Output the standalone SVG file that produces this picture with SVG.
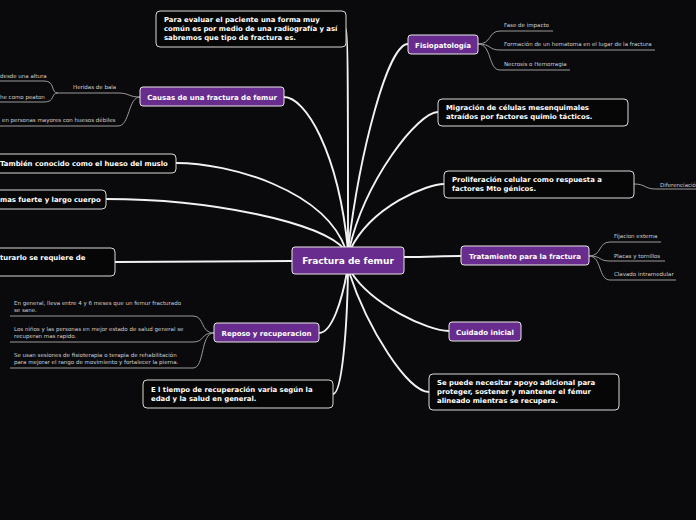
<svg xmlns="http://www.w3.org/2000/svg" width="696" height="520" viewBox="0 0 696 520">
<style>
.bg{fill:#0a0a0d}
.pn{fill:#682c8f;stroke:#e6e6e6;stroke-width:1}
.bn{fill:#060606;stroke:#d9d9d9;stroke-width:1}
.pt{font-family:"DejaVu Sans",sans-serif;font-weight:bold;font-size:7px;fill:#fff;text-anchor:middle}
.ct{font-family:"DejaVu Sans",sans-serif;font-weight:bold;font-size:9px;fill:#fff;text-anchor:middle}
.bt{font-family:"DejaVu Sans",sans-serif;font-weight:bold;font-size:6.9px;fill:#fff}
.lt{font-family:"DejaVu Sans",sans-serif;font-size:5.5px;fill:#d0d0d0}
.c{fill:none;stroke:#f2f2f2;stroke-width:1.9;stroke-linecap:round}
.l{fill:none;stroke:#9a9a9a;stroke-width:1}
</style>
<rect class="bg" x="0" y="0" width="696" height="520"/>
<g id="connectors">
<path class="c" d="M284,97 C305,97 338,150 348,250"/>
<path class="c" d="M346,29 C348,29 348,110 348,250"/>
<path class="c" d="M408,44 C388,44 360,150 348,250"/>
<path class="c" d="M438,112 C418,112 365,180 349,250"/>
<path class="c" d="M444,184 C428,184 372,205 350,250"/>
<path class="c" d="M404,257 C430,257 440,256 461,256"/>
<path class="c" d="M449,331 C428,331 372,305 351,272"/>
<path class="c" d="M429,392 C408,392 368,330 349,272"/>
<path class="c" d="M333,394 C342,394 347,330 348,272"/>
<path class="c" d="M319,333 C332,333 342,300 347,272"/>
<path class="c" d="M176,163 C230,163 325,190 346,250"/>
<path class="c" d="M106,199 C210,199 322,222 345,250"/>
<path class="c" d="M115,262 L292,261"/>
<path class="l" d="M140,97 C128,97 130,93 118,93 L58,93"/>
<path class="l" d="M140,97 C128,97 130,126 118,126 L0,126"/>
<path class="l" d="M58,93 C50,93 56,81 44,81 L0,81"/>
<path class="l" d="M58,93 C50,93 56,102 44,102 L0,102"/>
<path class="l" d="M478,44 C492,44 488,31 500,31 L553,31"/>
<path class="l" d="M478,44 C492,44 488,50 500,50 L655,50"/>
<path class="l" d="M478,44 C492,44 488,70 500,70 L570,70"/>
<path class="l" d="M634,184 C646,184 644,189 656,189 L696,189"/>
<path class="l" d="M589,256 C602,256 598,242 610,242 L661,242"/>
<path class="l" d="M589,256 C602,256 598,261 610,261 L665,261"/>
<path class="l" d="M589,256 C602,256 598,280 610,280 L676,280"/>
<path class="l" d="M214,333 C200,333 205,316 193,316 L10,316"/>
<path class="l" d="M214,333 C200,333 205,342 193,342 L10,342"/>
<path class="l" d="M214,333 C200,333 205,368 193,368 L10,368"/>
</g>
<g id="center">
<rect class="pn" x="292" y="247" width="112" height="27" rx="3"/>
<text class="ct" x="348" y="264">Fractura de femur</text>
</g>
<g id="causas">
<rect class="pn" x="140" y="87" width="144" height="19" rx="3"/>
<text class="pt" x="212" y="99.5">Causas de una fractura de femur</text>
</g>
<g id="fisiopatologia">
<rect class="pn" x="408" y="35" width="70" height="19" rx="3"/>
<text class="pt" x="443" y="47.5">Fisiopatología</text>
</g>
<g id="tratamiento">
<rect class="pn" x="461" y="246" width="128" height="19" rx="3"/>
<text class="pt" x="525" y="258.5">Tratamiento para la fractura</text>
</g>
<g id="reposo">
<rect class="pn" x="214" y="323" width="105" height="19" rx="3"/>
<text class="pt" x="266.5" y="335.5">Reposo y recuperacion</text>
</g>
<g id="cuidado">
<rect class="pn" x="449" y="322" width="72" height="19" rx="3"/>
<text class="pt" x="485" y="334.5">Cuidado inicial</text>
</g>
<g id="evaluar">
<rect class="bn" x="156" y="11" width="190" height="36" rx="4"/>
<text class="bt" x="164" y="22">Para evaluar el paciente una forma muy</text>
<text class="bt" x="164" y="31">común es por medio de una radiografía y así</text>
<text class="bt" x="164" y="40">sabremos que tipo de fractura es.</text>
</g>
<g id="migracion">
<rect class="bn" x="438" y="99" width="190" height="27" rx="4"/>
<text class="bt" x="446" y="110">Migración de células mesenquimales</text>
<text class="bt" x="446" y="119">atraídos por factores quimio tácticos.</text>
</g>
<g id="proliferacion">
<rect class="bn" x="444" y="171" width="190" height="27" rx="4"/>
<text class="bt" x="452" y="182">Proliferación celular como respuesta a</text>
<text class="bt" x="452" y="191">factores Mto génicos.</text>
</g>
<g id="apoyo">
<rect class="bn" x="429" y="374" width="190" height="36" rx="4"/>
<text class="bt" x="437" y="385">Se puede necesitar apoyo adicional para</text>
<text class="bt" x="437" y="394">proteger, sostener y mantener el fémur</text>
<text class="bt" x="437" y="403">alineado mientras se recupera.</text>
</g>
<g id="tiempo">
<rect class="bn" x="143" y="380" width="190" height="28" rx="4"/>
<text class="bt" x="151" y="392">E l tiempo de recuperación varia según la</text>
<text class="bt" x="151" y="401">edad y la salud en general.</text>
</g>
<g id="tambien">
<rect class="bn" x="-10" y="154" width="186" height="19" rx="4"/>
<text class="bt" x="0" y="165.5">También conocido como el hueso del muslo</text>
</g>
<g id="fuerte">
<rect class="bn" x="-10" y="190" width="116" height="19" rx="4"/>
<text class="bt" x="0" y="202">mas fuerte y largo cuerpo</text>
</g>
<g id="turarlo">
<rect class="bn" x="-10" y="248" width="125" height="28" rx="4"/>
<text class="bt" x="0" y="260">turarlo se requiere de</text>
</g>
<g id="leaves">
<text class="lt" x="73" y="89">Heridas de bala</text>
<text class="lt" x="0" y="78">desde una altura</text>
<text class="lt" x="0" y="99">he como peaton</text>
<text class="lt" x="2" y="122">en personas mayores con huesos débiles</text>
<text class="lt" x="504" y="27">Fase de impacto</text>
<text class="lt" x="504" y="46">Formación de un hematoma en el lugar de la fractura</text>
<text class="lt" x="504" y="66">Necrosis o Hemorragia</text>
<text class="lt" x="660" y="187">Diferenciació</text>
<text class="lt" x="614" y="238">Fijacion externa</text>
<text class="lt" x="614" y="258">Placas y tornillos</text>
<text class="lt" x="614" y="276">Clavado intramedular</text>
<text class="lt" x="14" y="305">En general, lleva entre 4 y 6 meses que un femur fracturado</text>
<text class="lt" x="14" y="312">se sane.</text>
<text class="lt" x="14" y="331">Los niños y las personas en mejor estado de salud general se</text>
<text class="lt" x="14" y="338">recuperan mas rapido.</text>
<text class="lt" x="14" y="357">Se usan sesiones de fisioterapia o terapia de rehabilitación</text>
<text class="lt" x="14" y="364">para mejorar el rango de movimiento y fortalecer la pierna.</text>
</g>
</svg>
